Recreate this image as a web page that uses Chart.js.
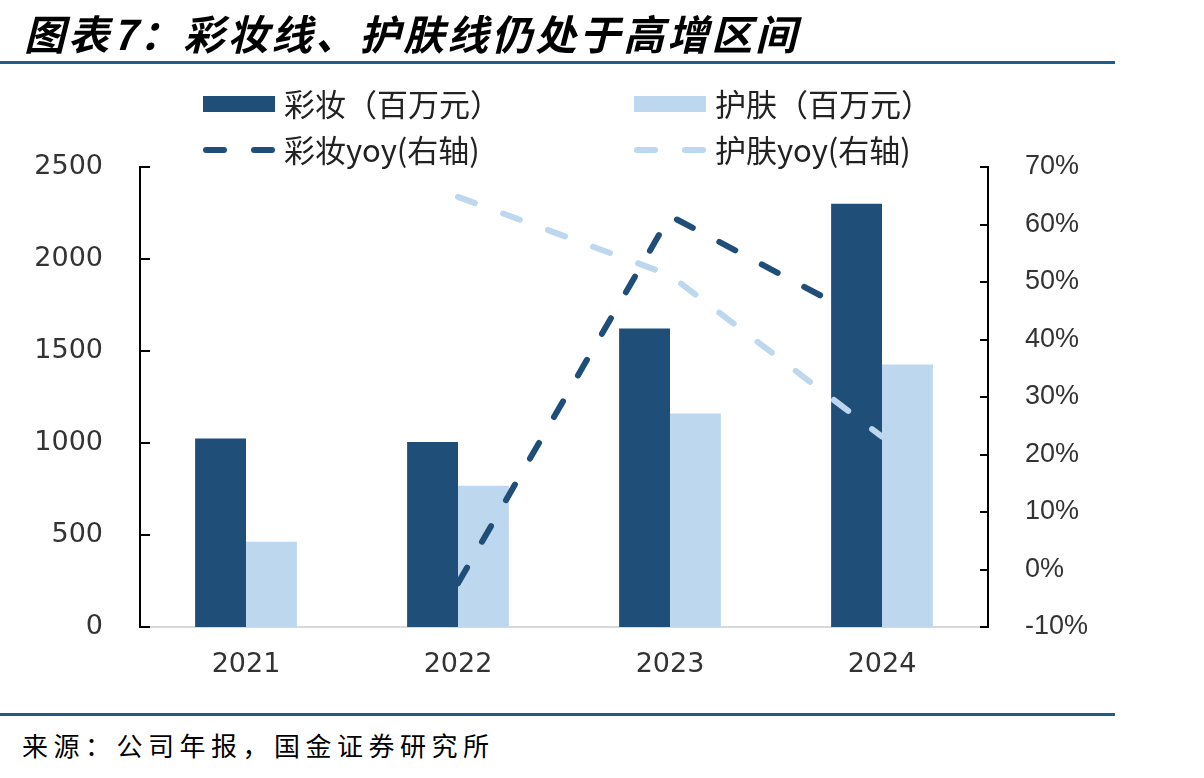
<!DOCTYPE html>
<html>
<head>
<meta charset="utf-8">
<script src="https://cdn.jsdelivr.net/npm/chart.js@4"></script>
<style>
  body { margin: 0; background: #fff; width: 1204px; height: 778px; overflow: hidden; position: relative; }
  #title { position: absolute; left: 24px; top: 2px; font: italic bold 41px "Noto Sans CJK SC", sans-serif; color: #000; letter-spacing: 3px; white-space: nowrap; z-index: 2; }
  .rule { position: absolute; left: 0; width: 1115px; height: 3px; background: #1f5c8a; z-index: 2; }
  #source { position: absolute; left: 22px; top: 726px; font: 26px "Noto Sans CJK SC", sans-serif; color: #000; letter-spacing: 5.5px; white-space: nowrap; z-index: 2; }
  #wrap { position: absolute; left: 0; top: 0; width: 1204px; height: 700px; }
</style>
</head>
<body>
<div id="title">图表7：彩妆线、护肤线仍处于高增区间</div>
<div class="rule" style="top:61px"></div>
<div id="wrap"><canvas id="chart"></canvas></div>
<div class="rule" style="top:713px"></div>
<div id="source">来源：公司年报，国金证券研究所</div>
<script>
// 数据
const years = ['2021', '2022', '2023', '2024'];
const makeup = [1025, 1005, 1622, 2300];      // 彩妆（百万元）
const skincare = [463, 768, 1160, 1427];      // 护肤（百万元）
const makeupYoy = [null, -2.4, 61.5, 42];     // 彩妆yoy %
const skincareYoy = [null, 64.8, 51.2, 23.1]; // 护肤yoy %

const darkBlue = '#1f4e79';
const lightBlue = '#bdd7ee';
const tickColor = '#333333';

// 图例（两列两行）
const legendPlugin = {
  id: 'twoColLegend',
  afterDraw(chart) {
    const ctx = chart.ctx;
    const ds = chart.data.datasets;
    const cols = [203, 634];
    const rows = [104, 150];
    const items = [
      { d: ds[0], col: 0, row: 0, kind: 'box' },
      { d: ds[1], col: 1, row: 0, kind: 'box' },
      { d: ds[2], col: 0, row: 1, kind: 'dash' },
      { d: ds[3], col: 1, row: 1, kind: 'dash' },
    ];
    ctx.save();
    ctx.font = '31px "Noto Sans CJK SC", sans-serif';
    ctx.textBaseline = 'middle';
    items.forEach(it => {
      const x = cols[it.col], y = rows[it.row];
      if (it.kind === 'box') {
        ctx.fillStyle = it.d.backgroundColor;
        ctx.fillRect(x, y - 8, 72, 16);
      } else {
        ctx.strokeStyle = it.d.borderColor;
        ctx.lineWidth = 6;
        ctx.lineCap = 'round';
        ctx.setLineDash([18, 30]);
        ctx.beginPath();
        ctx.moveTo(x + 3, y);
        ctx.lineTo(x + 72, y);
        ctx.stroke();
        ctx.setLineDash([]);
      }
      ctx.fillStyle = '#222';
      ctx.fillText(it.d.label, x + 81, y);
    });
    ctx.restore();
  }
};

// 坐标轴内侧刻度
const innerTicks = {
  id: 'innerTicks',
  afterDraw(chart) {
    const ctx = chart.ctx;
    ctx.save();
    ctx.strokeStyle = '#000';
    ctx.lineWidth = 2;
    const y = chart.scales.y, y1 = chart.scales.y1;
    y.ticks.forEach(t => {
      const p = Math.round(y.getPixelForValue(t.value));
      ctx.beginPath(); ctx.moveTo(y.right, p); ctx.lineTo(y.right + 10, p); ctx.stroke();
    });
    y1.ticks.forEach(t => {
      const p = Math.round(y1.getPixelForValue(t.value));
      ctx.beginPath(); ctx.moveTo(y1.left, p); ctx.lineTo(y1.left - 8, p); ctx.stroke();
    });
    ctx.restore();
  }
};

new Chart(document.getElementById('chart'), {
  data: {
    labels: years,
    datasets: [
      { type: 'bar', label: '彩妆（百万元）', data: makeup, backgroundColor: darkBlue, yAxisID: 'y', order: 2,
        categoryPercentage: 0.48, barPercentage: 1.0 },
      { type: 'bar', label: '护肤（百万元）', data: skincare, backgroundColor: lightBlue, yAxisID: 'y', order: 2,
        categoryPercentage: 0.48, barPercentage: 1.0 },
      { type: 'line', label: '彩妆yoy(右轴)', data: makeupYoy, borderColor: darkBlue, backgroundColor: darkBlue,
        borderWidth: 6, borderDash: [18, 30], borderCapStyle: 'round', pointRadius: 0, tension: 0, yAxisID: 'y1', order: 1 },
      { type: 'line', label: '护肤yoy(右轴)', data: skincareYoy, borderColor: lightBlue, backgroundColor: lightBlue,
        borderWidth: 6, borderDash: [18, 30], borderCapStyle: 'round', pointRadius: 0, tension: 0, yAxisID: 'y1', order: 0 },
    ],
  },
  options: {
    responsive: true,
    maintainAspectRatio: false,
    animation: false,
    layout: { padding: { top: 167, left: 0, right: 0, bottom: 0 } },
    plugins: {
      legend: { display: false },
      tooltip: { enabled: false },
    },
    scales: {
      x: {
        grid: { display: false },
        border: { display: true, color: '#d9d9d9', width: 2 },
        ticks: { color: tickColor, font: { family: 'DejaVu Sans', size: 27 }, padding: 14 },
        afterFit(s) { s.height = 73; },
      },
      y: {
        position: 'left',
        min: 0, max: 2500,
        grid: { display: false },
        border: { display: true, color: '#000', width: 2 },
        ticks: { stepSize: 500, color: tickColor, font: { family: 'DejaVu Sans', size: 27 }, padding: 29,
          callback: v => String(v) },
        afterFit(s) { s.width = 140; },
      },
      y1: {
        position: 'right',
        min: -10, max: 70,
        grid: { display: false },
        border: { display: true, color: '#000', width: 2 },
        ticks: { stepSize: 10, color: tickColor, font: { family: 'Liberation Sans', size: 27 }, padding: 29,
          callback: v => v + '%' },
        afterFit(s) { s.width = 216; },
      },
    },
  },
  plugins: [legendPlugin, innerTicks],
});
</script>
</body>
</html>
